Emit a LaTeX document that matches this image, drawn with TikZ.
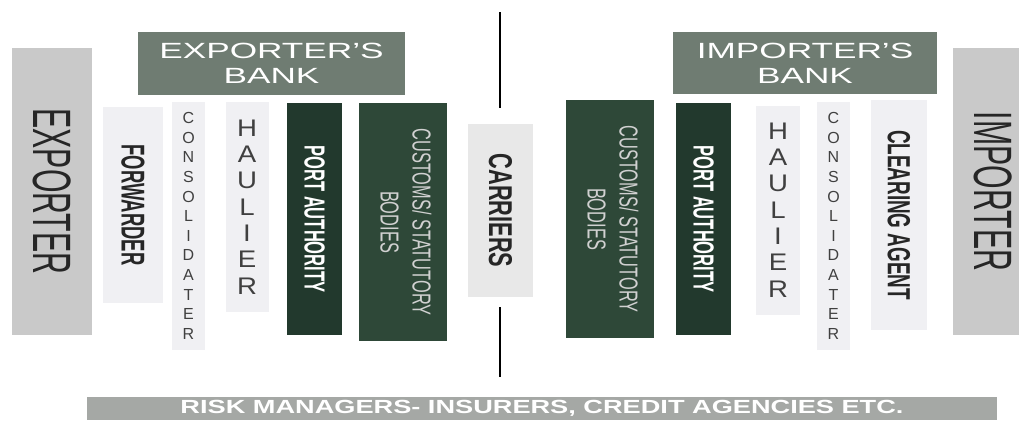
\documentclass[tikz,border=0pt]{standalone}
\usepackage{fontspec}
\setmainfont{Liberation Sans}
\usepackage{graphicx}
\definecolor{tradegray}{HTML}{C9C9C9}
\definecolor{bankgreen}{HTML}{6F7C72}
\definecolor{portgreen}{HTML}{22392D}
\definecolor{customsgreen}{HTML}{2E4838}
\definecolor{agentgray}{HTML}{F0F0F3}
\definecolor{riskgray}{HTML}{A5A8A5}
\newcommand{\narrow}[2][0.57]{\scalebox{#1}[1]{#2}}
\newcommand{\wide}[2][1.6]{\scalebox{#1}[1]{#2}}
\begin{document}
\begin{tikzpicture}[x=1pt, y=-1pt,
    cell/.style={inner sep=0pt, outer sep=0pt, align=center},
    party/.style={cell, fill=tradegray, text=black!85, font=\fontsize{54}{60}\selectfont},
    bank/.style={cell, fill=bankgreen, text=white, font=\fontsize{22}{25}\selectfont},
    agent/.style={cell, fill=agentgray, text=black!85},
    port/.style={cell, fill=portgreen, text=white, font=\bfseries\fontsize{29}{32}\selectfont},
    customs/.style={cell, fill=customsgreen, text=black!18, font=\fontsize{26}{32}\selectfont},
    letters/.style={cell, fill=agentgray, text=black!75}]
    \useasboundingbox (0,0) rectangle (1019,421);
    % exporter side
    \node[party, minimum width=80, minimum height=287] (exporter) at (52,191.5) {\rotatebox{-90}{\narrow[0.56]{EXPORTER}}};
    \node[bank, minimum width=267, minimum height=63] (exbank) at (271.5,63.5) {\wide{EXPORTER'S}\\\wide{BANK}};
    \node[agent, minimum width=60, minimum height=196, font=\bfseries\fontsize{33}{36}\selectfont] (forwarder) at (133,205) {\rotatebox{-90}{\narrow[0.56]{FORWARDER}}};
    \node[letters, minimum width=33, minimum height=248, font=\fontsize{16}{19.6}\selectfont] (exconsol) at (188.5,226) {C\\O\\N\\S\\O\\L\\I\\D\\A\\T\\E\\R};
    \node[letters, minimum width=43, minimum height=210, font=\fontsize{24}{26.3}\selectfont] (exhaulier) at (247,207) {\wide[1.15]{H}\\\wide[1.15]{A}\\\wide[1.15]{U}\\\wide[1.15]{L}\\\wide[1.15]{I}\\\wide[1.15]{E}\\\wide[1.15]{R}};
    \node[port, minimum width=55, minimum height=232] (export) at (314.5,219) {\rotatebox{-90}{\narrow{PORT AUTHORITY}}};
    \node[customs, minimum width=88, minimum height=238] (excustoms) at (403,222) {\rotatebox{-90}{\narrow[0.63]{\begin{tabular}{@{}c@{}}CUSTOMS/ STATUTORY\\BODIES\end{tabular}}}};
    % carriers in the middle
    \node[agent, fill=black!9, minimum width=65, minimum height=173, font=\bfseries\fontsize{33}{36}\selectfont] (carriers) at (500.5,210.5) {\rotatebox{-90}{\narrow[0.66]{CARRIERS}}};
    \foreach \ya/\yb in {12/108, 307/377}
    {
        \draw[line width=1.6pt] (500,\ya) -- (500,\yb);
    }
    % importer side
    \node[customs, minimum width=88, minimum height=238] (imcustoms) at (610,219) {\rotatebox{-90}{\narrow[0.63]{\begin{tabular}{@{}c@{}}CUSTOMS/ STATUTORY\\BODIES\end{tabular}}}};
    \node[bank, minimum width=264, minimum height=62] (imbank) at (805,63) {\wide{IMPORTER'S}\\\wide{BANK}};
    \node[port, minimum width=55, minimum height=232] (import) at (703.5,219) {\rotatebox{-90}{\narrow{PORT AUTHORITY}}};
    \node[letters, minimum width=44, minimum height=209, font=\fontsize{24}{26.3}\selectfont] (imhaulier) at (778,210) {\wide[1.15]{H}\\\wide[1.15]{A}\\\wide[1.15]{U}\\\wide[1.15]{L}\\\wide[1.15]{I}\\\wide[1.15]{E}\\\wide[1.15]{R}};
    \node[letters, minimum width=33, minimum height=248, font=\fontsize{16}{19.6}\selectfont] (imconsol) at (833.5,226) {C\\O\\N\\S\\O\\L\\I\\D\\A\\T\\E\\R};
    \node[agent, minimum width=56, minimum height=230, font=\bfseries\fontsize{32}{36}\selectfont] (clearing) at (899,215) {\rotatebox{-90}{\narrow[0.59]{CLEARING AGENT}}};
    \node[party, minimum width=80, minimum height=287] (importer) at (993,191.5) {\rotatebox{-90}{\narrow[0.56]{IMPORTER}}};
    % risk bar
    \node[cell, fill=riskgray, text=white, minimum width=910, minimum height=23, font=\bfseries\fontsize{19}{22}\selectfont] (risk) at (542,408.5) {\wide[1.43]{RISK MANAGERS- INSURERS, CREDIT AGENCIES ETC.}};
\end{tikzpicture}
\end{document}
